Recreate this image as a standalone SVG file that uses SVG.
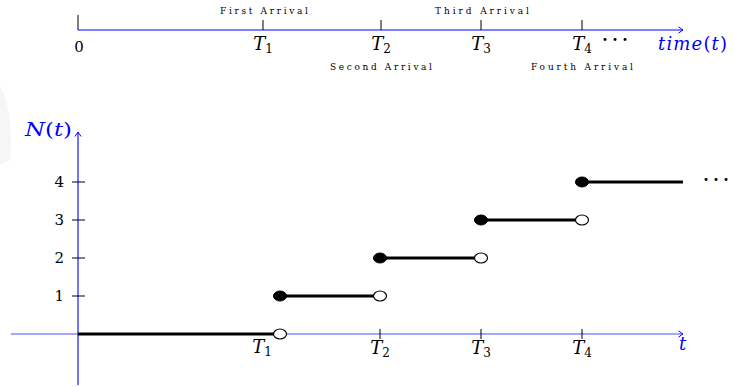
<svg xmlns="http://www.w3.org/2000/svg" width="735" height="387" viewBox="0 0 735 387">
<style>
.ax{stroke:#0000ff;stroke-width:1.1;fill:none}
.ax2{stroke:#4d4dff;stroke-width:1.1;fill:none}
.tk{stroke:#000;stroke-width:1;fill:none}
.st{stroke:#000;stroke-width:3;fill:none}
.m{font-family:"DejaVu Serif","Liberation Serif",serif;font-style:italic;font-size:18px;fill:#000}
.n{font-family:"DejaVu Serif","Liberation Serif",serif;font-size:15px;fill:#000}
.sub{font-style:normal;font-size:12px}
.sm{font-family:"DejaVu Serif","Liberation Serif",serif;font-size:9px;fill:#000}
.dots{font-family:"Liberation Serif",serif;font-size:18px;font-weight:bold;fill:#000}
.blue{fill:#0000ff}
.open{fill:#fff;stroke:#000;stroke-width:1.2}
.fill{fill:#000;stroke:#000;stroke-width:1}
</style>
<defs>
<marker id="arr" viewBox="-6 -4 8 8" markerWidth="8" markerHeight="8" refX="0" refY="0" orient="auto" markerUnits="userSpaceOnUse">
<path d="M-4.5,-3.2 Q-1.5,-0.8 0,0 Q-1.5,0.8 -4.5,3.2" fill="none" stroke="#0000ff" stroke-width="1"/>
</marker>
</defs>
<g id="watermark" fill="#f6f6f6">
<path d="M0,85 Q14,115 10,160 L0,165 Z"/>
</g>
<g id="timeline">
<line class="ax" x1="78" y1="30" x2="683" y2="30" marker-end="url(#arr)"/>
<line class="tk" x1="78" y1="15" x2="78" y2="30"/>
<line class="tk" x1="263" y1="20" x2="263" y2="30"/>
<line class="tk" x1="381" y1="20" x2="381" y2="30"/>
<line class="tk" x1="481" y1="20" x2="481" y2="30"/>
<line class="tk" x1="582" y1="20" x2="582" y2="30"/>
<text class="n" x="79" y="52" text-anchor="middle">0</text>
<text class="m" x="263" y="50" text-anchor="middle">T<tspan class="sub" dy="3">1</tspan></text>
<text class="m" x="381" y="50" text-anchor="middle">T<tspan class="sub" dy="3">2</tspan></text>
<text class="m" x="481" y="50" text-anchor="middle">T<tspan class="sub" dy="3">3</tspan></text>
<text class="m" x="582" y="50" text-anchor="middle">T<tspan class="sub" dy="3">4</tspan></text>
<text class="dots" x="602" y="46" textLength="26" lengthAdjust="spacing">···</text>
<text class="m blue" x="658" y="50" textLength="69" lengthAdjust="spacing">time<tspan font-style="normal">(</tspan>t<tspan font-style="normal">)</tspan></text>
<text class="sm" x="220" y="14" textLength="88" lengthAdjust="spacing">First Arrival</text>
<text class="sm" x="330" y="70" textLength="102" lengthAdjust="spacing">Second Arrival</text>
<text class="sm" x="435" y="14" textLength="94" lengthAdjust="spacing">Third Arrival</text>
<text class="sm" x="531" y="70" textLength="102" lengthAdjust="spacing">Fourth Arrival</text>
</g>
<g id="axes">
<line class="ax2" x1="11" y1="334" x2="683" y2="334" marker-end="url(#arr)"/>
<line class="ax" x1="78" y1="385" x2="78" y2="132" marker-end="url(#arr)"/>
<text class="m blue" x="25" y="136" textLength="47" lengthAdjust="spacingAndGlyphs">N<tspan font-style="normal">(</tspan>t<tspan font-style="normal">)</tspan></text>
<text class="m blue" x="679" y="350">t</text>
</g>
<g id="y-ticks">
<line class="tk" x1="72" y1="182" x2="85" y2="182"/>
<line class="tk" x1="72" y1="220" x2="85" y2="220"/>
<line class="tk" x1="72" y1="258" x2="85" y2="258"/>
<line class="tk" x1="72" y1="296" x2="85" y2="296"/>
<text class="n" x="64" y="187" text-anchor="end">4</text>
<text class="n" x="64" y="225" text-anchor="end">3</text>
<text class="n" x="64" y="263" text-anchor="end">2</text>
<text class="n" x="64" y="301" text-anchor="end">1</text>
</g>
<g id="x-ticks">
<line class="tk" x1="380" y1="329" x2="380" y2="339"/>
<line class="tk" x1="481" y1="329" x2="481" y2="339"/>
<line class="tk" x1="582" y1="329" x2="582" y2="339"/>
<text class="m" x="262" y="353" text-anchor="middle">T<tspan class="sub" dy="3">1</tspan></text>
<text class="m" x="380" y="354" text-anchor="middle">T<tspan class="sub" dy="3">2</tspan></text>
<text class="m" x="481" y="354" text-anchor="middle">T<tspan class="sub" dy="3">3</tspan></text>
<text class="m" x="582" y="354" text-anchor="middle">T<tspan class="sub" dy="3">4</tspan></text>
</g>
<g id="steps">
<line class="st" x1="78" y1="334" x2="280" y2="334"/>
<line class="st" x1="280" y1="296" x2="380" y2="296"/>
<line class="st" x1="380" y1="258" x2="481" y2="258"/>
<line class="st" x1="481" y1="220" x2="582" y2="220"/>
<line class="st" x1="582" y1="182" x2="683" y2="182"/>
<ellipse class="open" cx="280" cy="334" rx="6.5" ry="5"/>
<ellipse class="fill" cx="280" cy="296" rx="6.5" ry="5"/>
<ellipse class="open" cx="380" cy="296" rx="6.5" ry="5"/>
<ellipse class="fill" cx="380" cy="258" rx="6.5" ry="5"/>
<ellipse class="open" cx="481" cy="258" rx="6.5" ry="5"/>
<ellipse class="fill" cx="481" cy="220" rx="6.5" ry="5"/>
<ellipse class="open" cx="582" cy="220" rx="6.5" ry="5"/>
<ellipse class="fill" cx="582" cy="182" rx="6.5" ry="5"/>
<text class="dots" x="703" y="186" textLength="26" lengthAdjust="spacing">···</text>
</g>
</svg>
